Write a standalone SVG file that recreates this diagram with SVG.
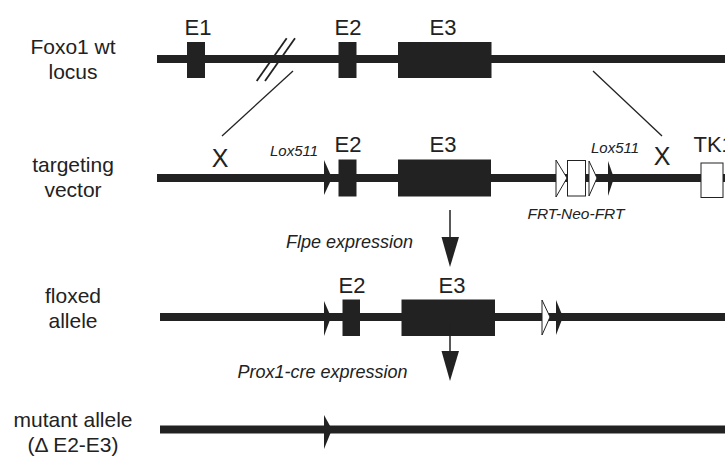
<svg xmlns="http://www.w3.org/2000/svg" width="725" height="457" viewBox="0 0 725 457">
  <style>
    .lbl { font-family: "Liberation Sans", Arial, sans-serif; font-size: 21px; fill: #222; text-anchor: middle; }
    .ex { font-family: "Liberation Sans", Arial, sans-serif; font-size: 22px; fill: #222; text-anchor: middle; }
    .ex-start { font-family: "Liberation Sans", Arial, sans-serif; font-size: 22px; fill: #222; text-anchor: start; }
    .xx { font-family: "Liberation Sans", Arial, sans-serif; font-size: 25px; fill: #222; text-anchor: middle; }
    .it { font-family: "Liberation Sans", Arial, sans-serif; font-style: italic; fill: #222; }
    .dna { stroke: #222; stroke-width: 8; fill: none; }
    .exon { fill: #222; }
    .lox { fill: #222; }
    .frt { fill: #fff; stroke: #222; stroke-width: 1; }
    .open { fill: #fff; stroke: #222; stroke-width: 1; }
    .thin { stroke: #222; stroke-width: 1.3; fill: none; }
    .brk { stroke: #222; stroke-width: 1.8; fill: none; }
    .step { stroke: #222; stroke-width: 1.5; fill: none; }
  </style>

  <!-- row labels -->
  <g id="label-wt">
    <text class="lbl" x="73" y="54">Foxo1 wt</text>
    <text class="lbl" x="73" y="79">locus</text>
  </g>
  <g id="label-vector">
    <text class="lbl" x="73" y="172">targeting</text>
    <text class="lbl" x="73" y="197">vector</text>
  </g>
  <g id="label-floxed">
    <text class="lbl" x="73" y="303">floxed</text>
    <text class="lbl" x="73" y="328">allele</text>
  </g>
  <g id="label-mutant">
    <text class="lbl" x="73" y="427">mutant allele</text>
    <text class="lbl" x="73" y="452">(Δ E2-E3)</text>
  </g>

  <!-- wild-type locus -->
  <g id="wt-locus">
    <line class="dna" x1="157" y1="59" x2="725" y2="59"/>
    <rect class="exon" x="187" y="42" width="18" height="36"/>
    <rect class="exon" x="338.5" y="42" width="18" height="36"/>
    <rect class="exon" x="398" y="42" width="93.5" height="36"/>
    <line class="brk" x1="256.7" y1="81" x2="286.7" y2="38.3"/>
    <line class="brk" x1="265" y1="81" x2="295" y2="38.3"/>
    <text class="ex" x="198" y="35">E1</text>
    <text class="ex" x="348" y="35">E2</text>
    <text class="ex" x="443" y="35">E3</text>
  </g>

  <!-- targeting vector -->
  <g id="targeting-vector">
    <line class="dna" x1="157" y1="178" x2="725" y2="178"/>
    <polygon class="lox" points="324,160 332,178 324,195"/>
    <rect class="exon" x="338.5" y="159.5" width="18" height="37"/>
    <rect class="exon" x="398" y="159.5" width="93" height="37"/>
    <polygon class="open" points="556,160 567,178 556,197"/>
    <rect class="frt" x="567.5" y="160.5" width="18" height="35.5"/>
    <polygon class="open" points="589,161 597,178 589,196"/>
    <polygon class="lox" points="608,161 614,178 608,196"/>
    <rect class="frt" x="701" y="163" width="22" height="34.5"/>
    <text class="xx" x="220" y="167">X</text>
    <text class="xx" x="662" y="165">X</text>
    <text class="it" x="270" y="155.7" font-size="15">Lox511</text>
    <text class="it" x="591" y="153" font-size="15">Lox511</text>
    <text class="ex" x="348" y="152">E2</text>
    <text class="ex" x="443" y="152">E3</text>
    <text class="ex-start" x="693.5" y="152">TK1</text>
    <text class="it" x="576" y="219" font-size="15.5" text-anchor="middle">FRT-Neo-FRT</text>
  </g>

  <!-- floxed allele -->
  <g id="floxed-allele">
    <line class="dna" x1="160" y1="317" x2="725" y2="317"/>
    <polygon class="lox" points="324,301 331,317 324,336"/>
    <rect class="exon" x="342.5" y="299.5" width="17.5" height="36.5"/>
    <rect class="exon" x="401.5" y="299.5" width="93.5" height="36.5"/>
    <polygon class="open" points="542,300 550,317 542,335"/>
    <polygon class="lox" points="556,300 563,317 556,335"/>
    <text class="ex" x="352" y="293">E2</text>
    <text class="ex" x="452" y="293">E3</text>
  </g>

  <!-- mutant allele -->
  <g id="mutant-allele">
    <line class="dna" x1="160" y1="429.5" x2="725" y2="429.5"/>
    <polygon class="lox" points="324,415 332,429.5 324,449"/>
  </g>

  <!-- connectors: homology lines and recombination steps -->
  <g id="connectors">
    <line class="thin" x1="293" y1="71" x2="222" y2="136"/>
    <line class="thin" x1="593" y1="71" x2="662" y2="136"/>
    <line class="step" x1="450" y1="210" x2="450" y2="240"/>
    <polygon class="lox" points="441.5,237 459,237 450,267"/>
    <text class="it" x="286" y="248.3" font-size="18">Flpe expression</text>
    <line class="step" x1="450" y1="324" x2="450" y2="354"/>
    <polygon class="lox" points="441.5,351 459,351 450,381"/>
    <text class="it" x="237.5" y="378.3" font-size="18">Prox1-cre expression</text>
  </g>
</svg>
